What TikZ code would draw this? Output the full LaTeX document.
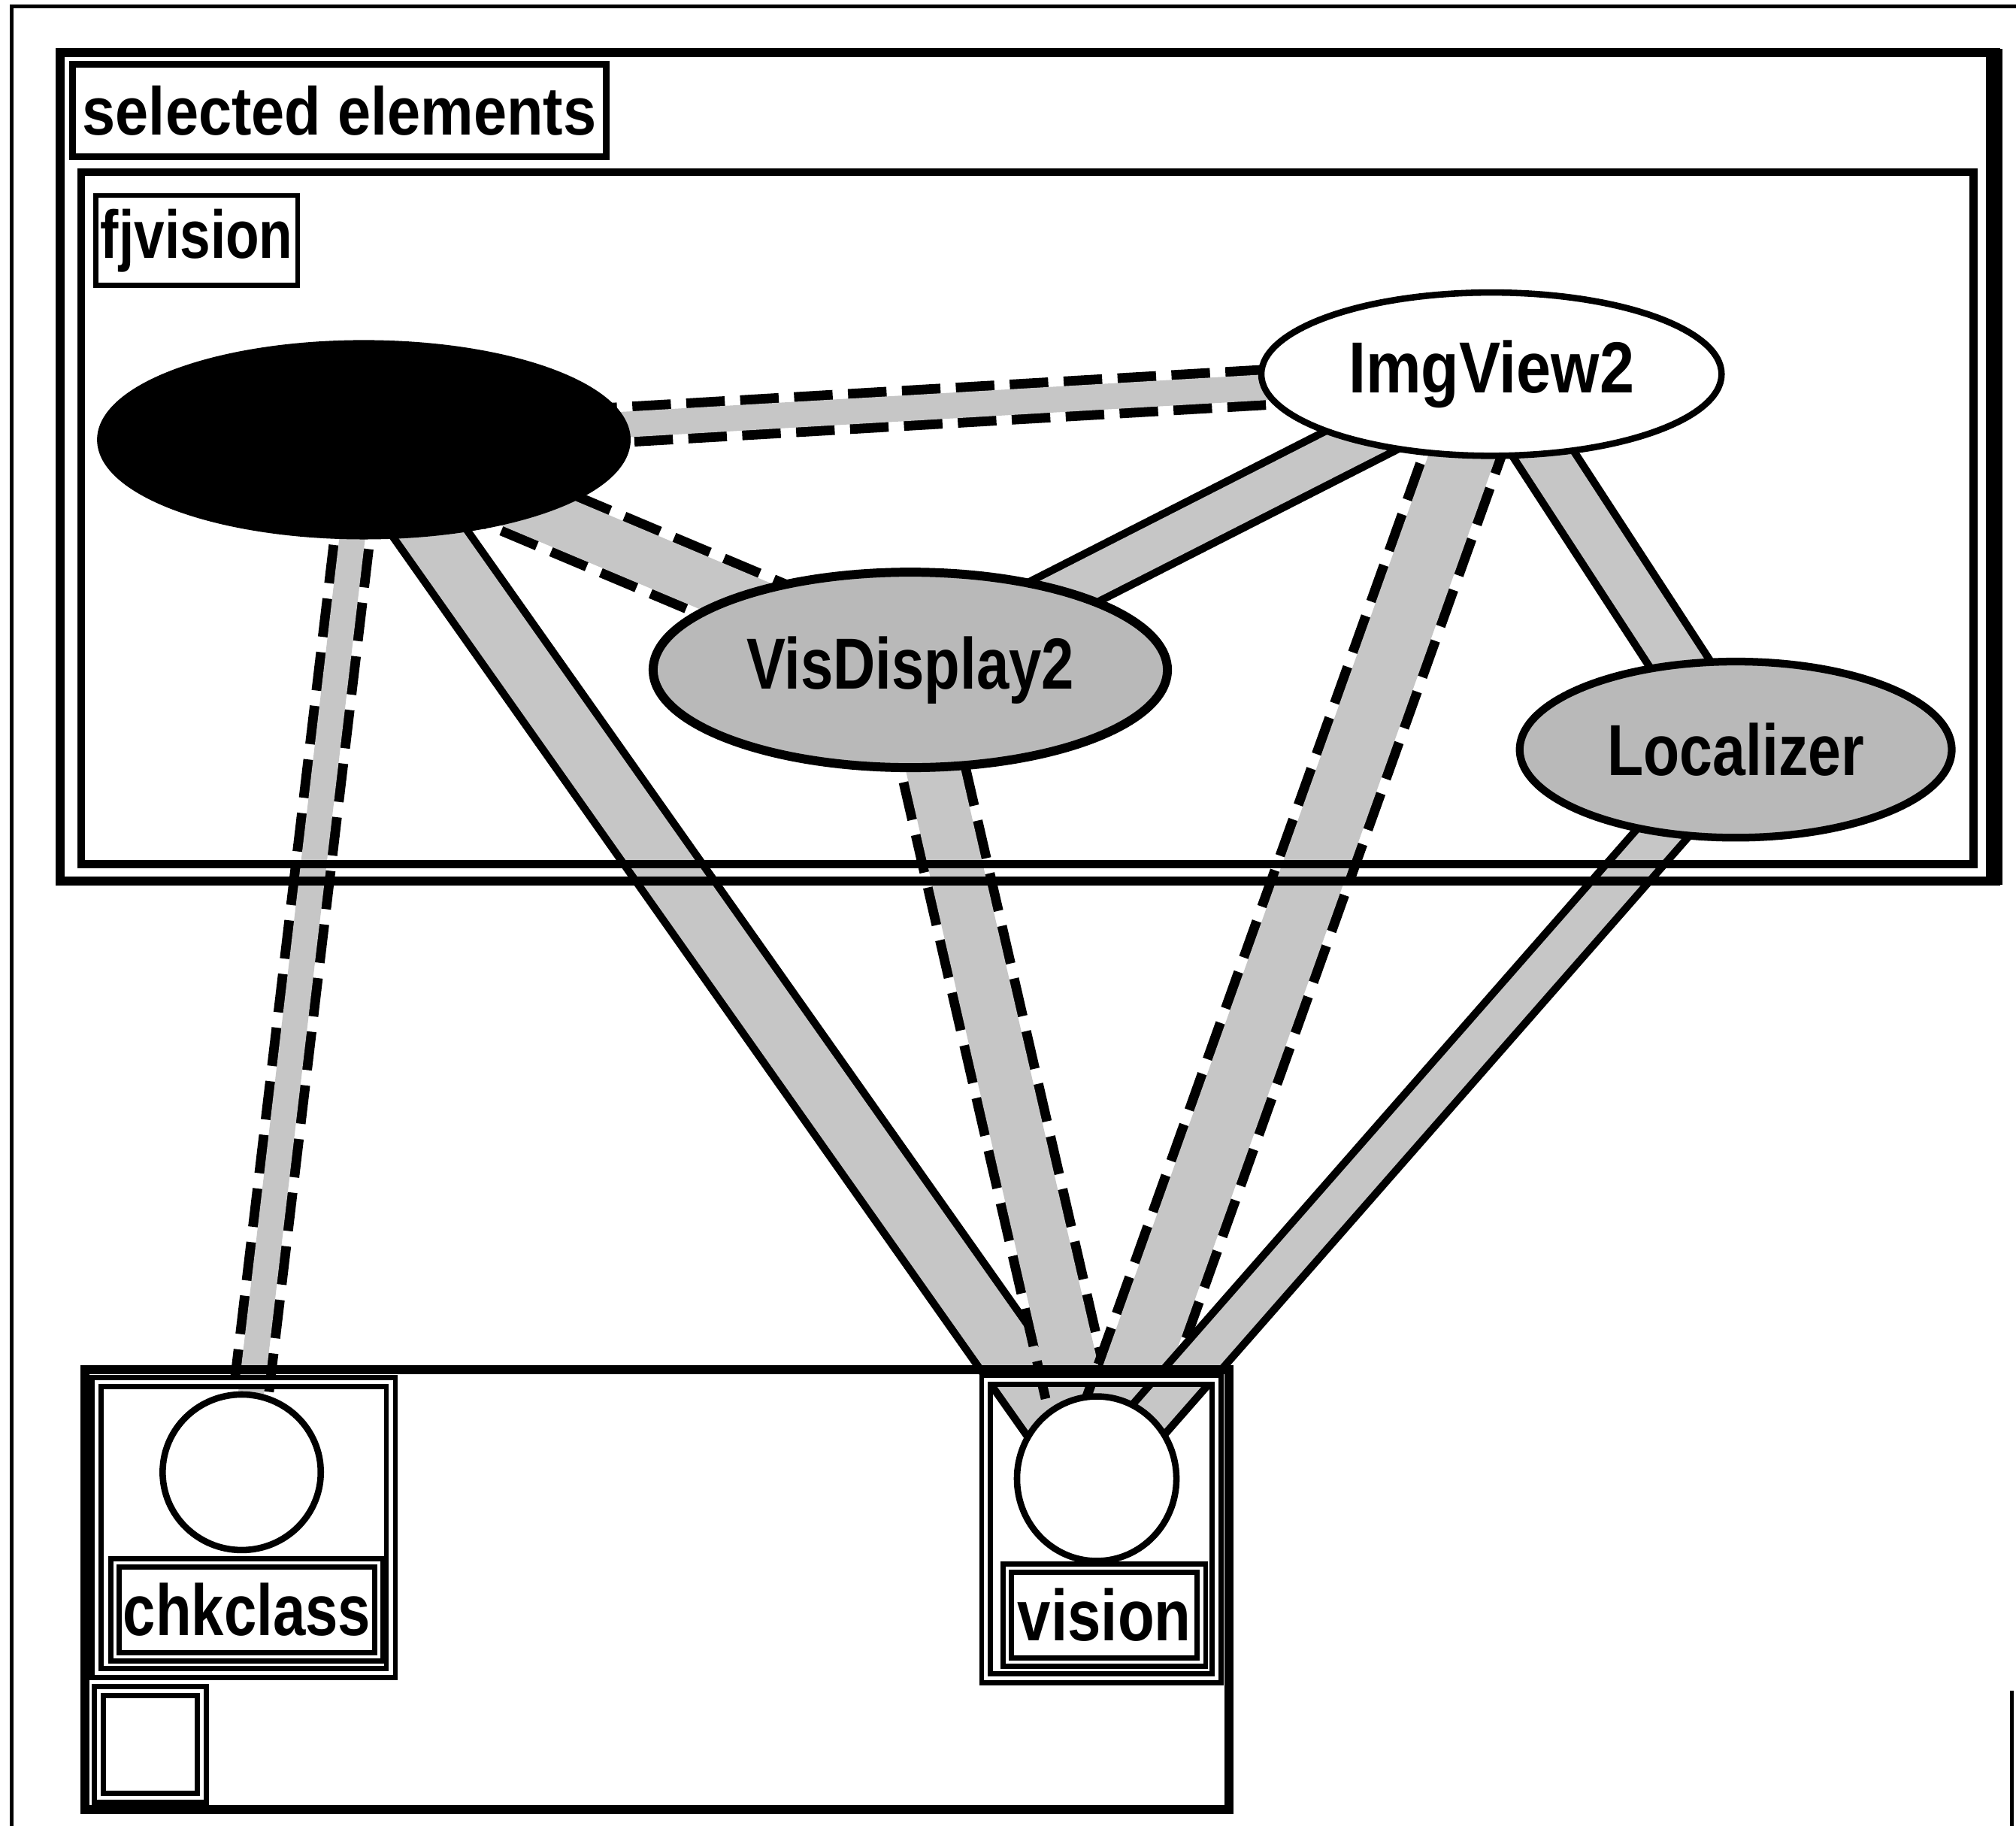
\documentclass[tikz,border=0pt]{standalone}
\usepackage{fontspec}
\setmainfont{Liberation Sans}
\usetikzlibrary{shapes.geometric}

\pgfdeclarelayer{bands}
\pgfsetlayers{bands,main}

\newcommand{\narrow}[2][0.82]{\scalebox{#1}[1]{#2}}

\tikzset{
  compnode/.style={ellipse, draw, line width=0.5mm, inner sep=0pt,
    font=\fontsize{16}{16}\selectfont\bfseries},
  portnode/.style={ellipse, draw, fill=white, line width=0.5mm, inner sep=0pt},
  tagbox/.style={rectangle, draw, line width=0.5mm, fill=white, inner sep=0pt,
    font=\fontsize{15}{15}\selectfont\bfseries},
  dtagbox/.style={tagbox, line width=0.4mm, double, double distance=0.25mm,
    font=\fontsize{16}{16}\selectfont\bfseries},
  framebox/.style={draw, line width=0.6mm},
  solidband/.style={draw=gray!45, line width=#1,
    preaction={draw=black, line width=#1+1.2mm}},
  dashband/.style={draw=gray!45, line width=#1,
    preaction={draw=black, line width=#1+1.5mm, dash pattern=on 3mm off 1.2mm}}
}

\begin{document}
\begin{tikzpicture}[x=0.1mm, y=-0.1mm]
\useasboundingbox (0,0) rectangle (1568,1420);

% outer window edge
\draw[line width=0.3mm] (9,1420) -- (9,5) -- (1568,5);
\draw[line width=0.3mm] (1565,1315) -- (1565,1420);

% selected elements frame
\draw[framebox, line width=0.7mm] (47,41) rectangle (1552,685);
\draw[line width=1.3mm] (1551,38) -- (1551,688);
\node[tagbox, minimum width=41.5mm, minimum height=7.2mm] (seltag) at (264,86) {\narrow[0.88]{selected elements}};

% fjvision group
\draw[framebox] (63,134) rectangle (1535,672);
\node[tagbox, line width=0.4mm, minimum width=15.7mm, minimum height=7mm] (grptag) at (153,187) {\narrow[0.81]{fjvision}};

% components
\node[compnode, fill=black, minimum width=41mm, minimum height=15mm] (sel) at (283,342) {};
\node[compnode, fill=white, minimum width=35.8mm, minimum height=12.7mm] (imgview) at (1160,291) {\narrow[0.86]{ImgView2}};
\node[compnode, fill=gray!55, line width=0.7mm, minimum width=40mm, minimum height=15.2mm] (visdisp) at (708,521) {\narrow[0.81]{VisDisplay2}};
\node[compnode, fill=gray!55, line width=0.6mm, minimum width=33.6mm, minimum height=13.7mm] (local) at (1350,583) {\narrow[0.82]{Localizer}};

% bottom panel
\draw[framebox, line width=0.7mm] (66,1065) rectangle (956,1407);

% chkclass
\draw[line width=0.4mm, double, double distance=0.3mm] (75,1075) rectangle (304,1301);
\node[portnode, minimum width=12.3mm, minimum height=12.1mm] (chkport) at (188,1145) {};
\node[dtagbox, minimum width=20.5mm, minimum height=7.3mm] (chktag) at (192,1252) {\narrow[0.81]{chkclass}};
\draw[line width=0.4mm, double, double distance=0.3mm] (77,1315) rectangle (157,1398);

% vision
\draw[line width=0.4mm, double, double distance=0.3mm] (767,1073) rectangle (946,1305);
\node[portnode, minimum width=12.4mm, minimum height=12.8mm] (visport) at (853,1150) {};
\node[dtagbox, minimum width=15.1mm, minimum height=7.3mm] (vistag) at (859,1256) {\narrow[0.83]{vision}};

% links
\begin{pgfonlayer}{bands}
\draw[dashband=2.0mm] (sel.center) -- (imgview.center);
\draw[dashband=4.0mm] (sel.center) -- (visdisp.center);
\draw[solidband=3.2mm] (imgview.center) -- (visdisp.center);
\draw[solidband=4.4mm] (sel.center) -- (visport.center);
\draw[dashband=2.0mm] (sel.center) -- (chkport.center);
\draw[dashband=4.2mm] (visdisp.center) -- (visport.center);
\draw[dashband=5.0mm] (imgview.center) -- (visport.center);
\draw[solidband=3.6mm] (imgview.center) -- (local.center);
\draw[solidband=2.8mm] (local.center) -- (visport.center);
\end{pgfonlayer}

\end{tikzpicture}
\end{document}
